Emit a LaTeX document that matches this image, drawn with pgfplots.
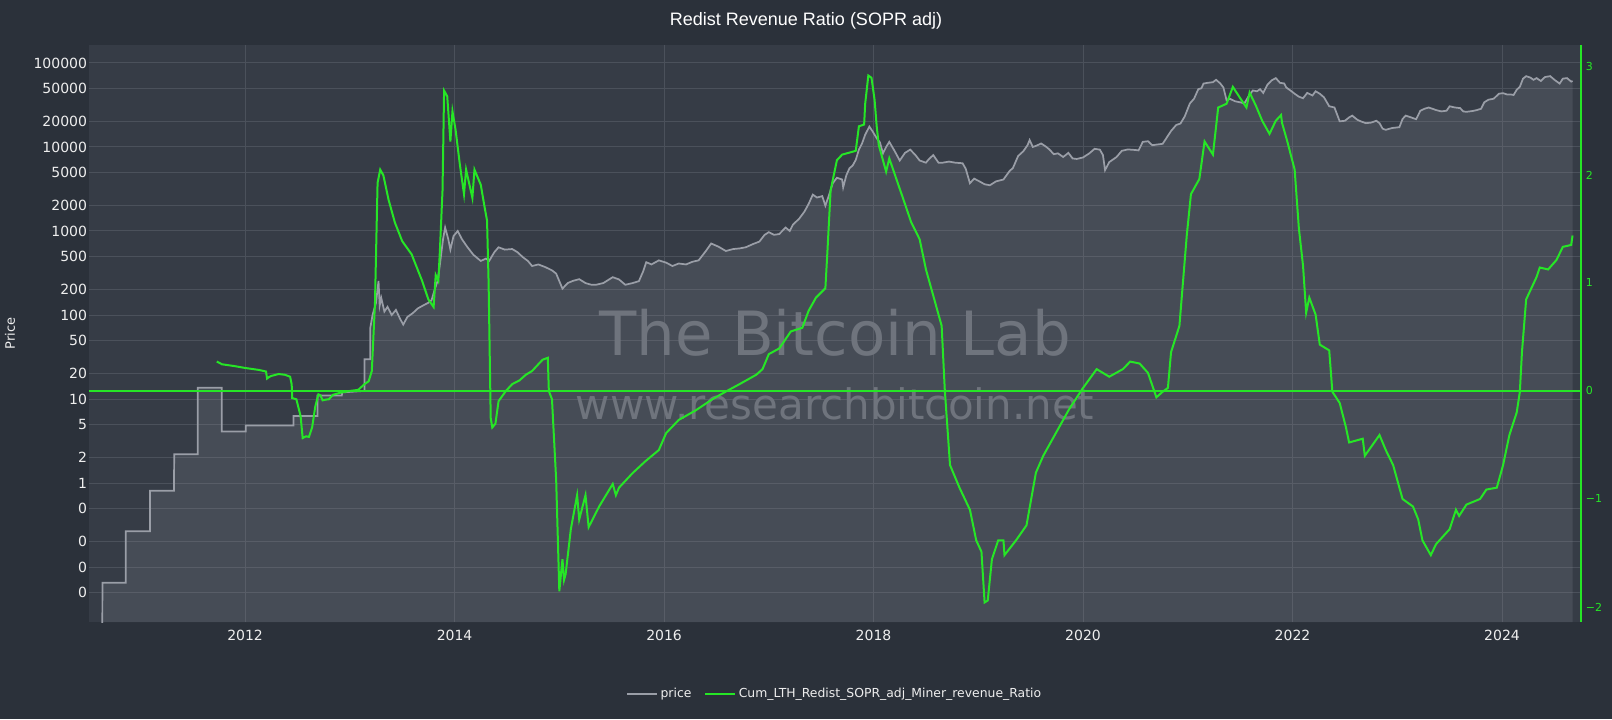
\documentclass[border=0pt]{standalone}
\usepackage{pgfplots}
\pgfplotsset{compat=1.18}
\usepackage{pgfplotstable}
\usepackage{fontspec}
\setmainfont{DejaVu Sans}
\newfontfamily\titlefont{Liberation Sans}
\definecolor{paper}{HTML}{2B313A}
\definecolor{plotbg}{HTML}{363C46}
\definecolor{gridc}{HTML}{4B515B}
\definecolor{pricec}{HTML}{9A9EA7}
\definecolor{limec}{HTML}{26E626}
\definecolor{wm}{HTML}{6F747D}
\definecolor{txt}{HTML}{EEEEEE}

\pgfplotstableread{
x y
2010.637 0.008
2010.638 0.065
2010.860 0.065
2010.861 0.267
2011.092 0.267
2011.093 0.81
2011.322 0.81
2011.323 2.2
2011.548 2.2
2011.549 13.6
2011.777 13.6
2011.778 4.1
2012.006 4.1
2012.007 4.84
2012.462 4.84
2012.463 6.3
2012.691 6.3
2012.692 11.0
2012.924 11.0
2012.925 12.0
2013.140 12.5
2013.141 29.7
2013.194 29.7
2013.195 70
2013.217 100
2013.25 140
2013.274 254
2013.285 130
2013.30 160
2013.33 110
2013.36 125
2013.40 100
2013.44 115
2013.48 90
2013.51 77
2013.55 95
2013.60 105
2013.65 120
2013.70 130
2013.75 140
2013.78 150
2013.81 200
2013.84 260
2013.86 400
2013.89 800
2013.91 1100
2013.94 800
2013.96 600
2013.99 870
2014.03 1000
2014.07 800
2014.12 650
2014.18 520
2014.25 440
2014.30 470
2014.33 440
2014.38 560
2014.42 640
2014.48 600
2014.55 610
2014.60 560
2014.65 490
2014.70 440
2014.74 383
2014.80 400
2014.87 370
2014.93 340
2014.97 311
2015.03 206
2015.08 240
2015.13 255
2015.19 267
2015.25 240
2015.30 230
2015.35 229
2015.42 240
2015.51 282
2015.57 265
2015.63 229
2015.70 240
2015.76 253
2015.80 330
2015.83 425
2015.88 400
2015.95 447
2016.02 420
2016.08 383
2016.14 410
2016.21 400
2016.27 430
2016.33 447
2016.40 580
2016.45 710
2016.52 650
2016.59 578
2016.66 610
2016.72 620
2016.78 640
2016.85 700
2016.91 748
2016.96 900
2017.00 968
2017.05 900
2017.10 920
2017.16 1100
2017.20 1000
2017.23 1190
2017.29 1400
2017.34 1700
2017.38 2100
2017.42 2710
2017.46 2500
2017.51 2600
2017.54 2000
2017.58 2800
2017.61 3700
2017.65 4300
2017.70 4100
2017.71 3300
2017.74 4600
2017.77 5580
2017.80 6000
2017.83 7000
2017.86 9300
2017.89 11000
2017.92 14000
2017.96 17500
2017.99 15400
2018.03 12700
2018.06 11400
2018.09 8400
2018.12 10000
2018.15 11500
2018.20 9000
2018.25 6900
2018.30 8500
2018.35 9300
2018.40 8000
2018.44 6900
2018.50 6500
2018.53 7200
2018.57 8000
2018.62 6500
2018.66 6500
2018.72 6700
2018.78 6500
2018.85 6400
2018.88 5500
2018.92 3700
2018.96 4200
2019.01 3900
2019.06 3600
2019.11 3500
2019.17 3900
2019.24 4100
2019.30 5200
2019.33 5600
2019.38 7800
2019.43 8900
2019.47 10500
2019.49 12100
2019.52 10000
2019.55 10300
2019.60 11000
2019.65 10000
2019.68 9300
2019.72 8200
2019.76 8400
2019.81 7600
2019.86 8500
2019.90 7300
2019.94 7200
2020.00 7500
2020.06 8400
2020.11 9500
2020.16 9300
2020.19 8000
2020.21 5300
2020.25 6600
2020.32 7600
2020.37 9000
2020.42 9300
2020.45 9300
2020.50 9200
2020.53 9100
2020.57 11500
2020.62 11700
2020.66 10500
2020.71 10700
2020.76 10900
2020.80 13000
2020.84 15500
2020.89 18300
2020.93 19000
2020.97 23000
2021.02 33000
2021.06 37600
2021.10 48700
2021.13 50000
2021.15 56800
2021.19 58000
2021.24 59000
2021.27 63000
2021.31 57000
2021.34 51000
2021.37 36000
2021.40 37600
2021.45 35000
2021.50 34000
2021.54 33000
2021.58 40000
2021.62 47000
2021.66 46000
2021.69 48700
2021.72 44000
2021.76 55000
2021.80 62000
2021.84 66000
2021.88 58000
2021.92 57000
2021.94 51000
2021.98 47000
2022.02 43000
2022.06 39700
2022.10 38000
2022.14 44000
2022.19 41000
2022.22 46000
2022.26 43000
2022.30 39000
2022.35 30500
2022.40 29500
2022.45 20200
2022.50 20500
2022.54 22500
2022.57 23600
2022.62 21000
2022.66 20000
2022.70 19200
2022.75 19500
2022.80 20500
2022.83 19200
2022.86 16500
2022.89 16000
2022.95 16800
2023.02 17200
2023.05 21500
2023.08 23600
2023.13 22500
2023.18 21400
2023.22 27000
2023.26 28500
2023.30 29500
2023.37 27500
2023.42 26500
2023.47 27000
2023.50 30500
2023.55 29500
2023.60 29000
2023.63 26500
2023.66 26200
2023.72 26800
2023.76 27500
2023.80 28500
2023.83 34000
2023.87 36500
2023.92 37500
2023.97 43000
2024.01 43700
2024.05 42000
2024.09 42000
2024.11 41500
2024.14 48000
2024.17 52000
2024.20 65000
2024.23 69600
2024.27 67000
2024.30 63000
2024.33 66000
2024.37 61000
2024.41 68000
2024.46 69600
2024.50 63000
2024.55 56800
2024.58 65000
2024.62 66000
2024.66 60000
2024.673 61000
}\pricetab

\pgfplotstableread{
x y
2011.73 0.272
2011.78 0.247
2011.90 0.23
2012.00 0.213
2012.13 0.195
2012.20 0.18
2012.21 0.115
2012.23 0.13
2012.25 0.139
2012.32 0.157
2012.38 0.15
2012.43 0.132
2012.445 0.06
2012.45 -0.066
2012.49 -0.077
2012.53 -0.233
2012.55 -0.436
2012.58 -0.42
2012.61 -0.425
2012.64 -0.338
2012.67 -0.146
2012.70 -0.031
2012.72 -0.04
2012.74 -0.087
2012.77 -0.08
2012.80 -0.077
2012.84 -0.035
2012.92 -0.014
2013.00 0.0
2013.08 0.01
2013.14 0.063
2013.18 0.09
2013.21 0.185
2013.24 0.81
2013.265 1.927
2013.29 2.049
2013.32 1.997
2013.37 1.77
2013.43 1.56
2013.50 1.387
2013.59 1.265
2013.69 1.02
2013.75 0.847
2013.80 0.777
2013.82 1.073
2013.845 1.02
2013.86 1.3
2013.885 1.857
2013.90 2.78
2013.93 2.728
2013.96 2.31
2013.98 2.589
2014.01 2.415
2014.05 2.1
2014.09 1.822
2014.11 2.049
2014.17 1.787
2014.19 2.049
2014.25 1.909
2014.29 1.683
2014.31 1.578
2014.325 1.0
2014.345 -0.25
2014.36 -0.338
2014.39 -0.303
2014.42 -0.094
2014.49 0.0
2014.55 0.063
2014.62 0.098
2014.68 0.15
2014.74 0.185
2014.84 0.289
2014.89 0.307
2014.90 0.0
2014.93 -0.077
2014.97 -0.826
2015.00 -1.854
2015.03 -1.557
2015.045 -1.75
2015.06 -1.697
2015.11 -1.279
2015.17 -0.965
2015.19 -1.19
2015.25 -0.965
2015.28 -1.261
2015.38 -1.07
2015.51 -0.861
2015.54 -0.965
2015.57 -0.895
2015.70 -0.76
2015.82 -0.652
2015.95 -0.547
2016.02 -0.39
2016.14 -0.268
2016.30 -0.181
2016.46 -0.077
2016.60 0.0
2016.72 0.063
2016.88 0.15
2016.94 0.202
2017.00 0.341
2017.10 0.394
2017.21 0.551
2017.32 0.585
2017.38 0.742
2017.45 0.864
2017.54 0.951
2017.56 1.3
2017.59 1.857
2017.65 2.136
2017.70 2.188
2017.83 2.223
2017.86 2.45
2017.91 2.467
2017.92 2.659
2017.95 2.92
2017.98 2.9
2017.99 2.833
2018.01 2.693
2018.03 2.45
2018.05 2.275
2018.12 2.03
2018.15 2.153
2018.28 1.787
2018.36 1.56
2018.44 1.404
2018.50 1.125
2018.57 0.882
2018.65 0.603
2018.68 0.01
2018.73 -0.686
2018.82 -0.895
2018.92 -1.1
2018.98 -1.383
2019.03 -1.488
2019.06 -1.958
2019.09 -1.94
2019.13 -1.557
2019.19 -1.383
2019.24 -1.383
2019.25 -1.52
2019.36 -1.383
2019.46 -1.244
2019.55 -0.756
2019.62 -0.6
2019.75 -0.373
2019.87 -0.164
2020.00 0.028
2020.13 0.202
2020.25 0.132
2020.38 0.202
2020.45 0.272
2020.54 0.254
2020.62 0.167
2020.70 -0.059
2020.76 -0.007
2020.81 0.028
2020.84 0.359
2020.92 0.603
2020.99 1.439
2021.03 1.822
2021.11 1.962
2021.16 2.31
2021.24 2.188
2021.29 2.624
2021.37 2.659
2021.43 2.815
2021.50 2.711
2021.56 2.624
2021.59 2.763
2021.65 2.641
2021.71 2.502
2021.78 2.38
2021.84 2.502
2021.89 2.554
2021.90 2.48
2021.95 2.31
2022.02 2.049
2022.06 1.509
2022.10 1.16
2022.13 0.725
2022.16 0.864
2022.22 0.707
2022.26 0.429
2022.35 0.376
2022.38 -0.007
2022.45 -0.111
2022.51 -0.338
2022.54 -0.477
2022.67 -0.442
2022.69 -0.6
2022.83 -0.408
2022.89 -0.547
2022.96 -0.686
2023.05 -1.0
2023.15 -1.07
2023.20 -1.19
2023.24 -1.383
2023.32 -1.52
2023.37 -1.418
2023.50 -1.279
2023.56 -1.1
2023.59 -1.157
2023.66 -1.052
2023.79 -1.0
2023.85 -0.913
2023.95 -0.895
2024.01 -0.686
2024.07 -0.408
2024.14 -0.199
2024.17 -0.007
2024.19 0.359
2024.23 0.847
2024.33 1.056
2024.36 1.143
2024.44 1.125
2024.52 1.213
2024.58 1.334
2024.66 1.352
2024.673 1.439
}\ratiotab

\begin{document}
\begin{tikzpicture}
\fill[paper] (-66.75pt,-72.75pt) rectangle (1142.25pt,466.5pt);
\begin{axis}[
  at={(0pt,0pt)}, anchor=south west,
  scale only axis, width=1119pt, height=433pt,
  xmin=2010.51, xmax=2024.754,
  ymode=log, ymin=0.0222, ymax=165000, log origin y=infty,
  axis background/.style={fill=plotbg},
  axis line style={draw=none},
  major tick length=0pt, minor tick num=0,
  grid=major, major grid style={draw=gridc, line width=0.75pt},
  xtick={2012,2014,2016,2018,2020,2022,2024},
  xticklabels={2012,2014,2016,2018,2020,2022,2024},
  ytick={0.05,0.1,0.2,0.5,1,2,5,10,20,50,100,200,500,1000,2000,5000,10000,20000,50000,100000},
  yticklabels={0,0,0,0,1,2,5,10,20,50,100,200,500,1000,2000,5000,10000,20000,50000,100000},
  tick label style={font=\fontsize{10.5}{12}\selectfont, text=txt, inner sep=0pt},
  xticklabel style={anchor=north, yshift=-5.6pt},
  yticklabel style={anchor=east, xshift=-1.3pt},
]
\addplot[draw=none, fill=pricec, fill opacity=0.17] table[x=x,y=y] {\pricetab} \closedcycle;
\addplot[pricec, line width=1.3pt] table[x=x,y=y] {\pricetab};
\node[font=\fontsize{45.75}{50}\selectfont, text=wm, anchor=base] at (rel axis cs:0.5,0.461) {The Bitcoin Lab};
\node[font=\fontsize{31.5}{34}\selectfont, text=wm, anchor=base] at (rel axis cs:0.5,0.35) {www.researchbitcoin.net};
\end{axis}
\begin{axis}[
  at={(0pt,0pt)}, anchor=south west,
  scale only axis, width=1119pt, height=433pt,
  xmin=2010.51, xmax=2024.754, ymin=-2.139, ymax=3.206,
  axis x line=none, axis y line*=right,
  axis line style={-},
  y axis line style={draw=limec, line width=1pt, -},
  major tick length=0pt, minor tick num=0,
  ytick={-2,-1,0,1,2,3}, yticklabels={−2,−1,0,1,2,3},
  yticklabel style={font=\fontsize{8.25}{10}\selectfont, text=limec, anchor=west, inner sep=0pt, xshift=3.5pt},
  legend columns=2,
  legend cell align=left,
  legend style={at={(0.5,-0.125)}, anchor=center, draw=none, fill=none,
    font=\fontsize{9.3}{11}\selectfont, text=txt,
    /tikz/every even column/.append style={column sep=7.5pt}},
  legend image code/.code={\draw[#1] (0pt,0pt) -- (22.5pt,0pt);},
]
\addlegendimage{pricec, line width=1.3pt}
\addlegendentry{price}
\addplot[limec, line width=1.2pt, forget plot] coordinates {(2010.51,0) (2024.754,0)};
\addplot[limec, line width=1.5pt] table[x=x,y=y] {\ratiotab};
\addlegendentry{Cum\_LTH\_Redist\_SOPR\_adj\_Miner\_revenue\_Ratio}
\end{axis}
\node[rotate=90, font=\fontsize{9.75}{11}\selectfont, text=txt] at (-59.25pt,216.5pt) {Price};
\node[font=\titlefont\fontsize{13.5}{16}\selectfont, text=white] at (537.75pt,450.75pt) {Redist Revenue Ratio (SOPR adj)};
\pgfresetboundingbox
\useasboundingbox (-66.75pt,-72.75pt) rectangle (1142.25pt,466.5pt);
\end{tikzpicture}
\end{document}
